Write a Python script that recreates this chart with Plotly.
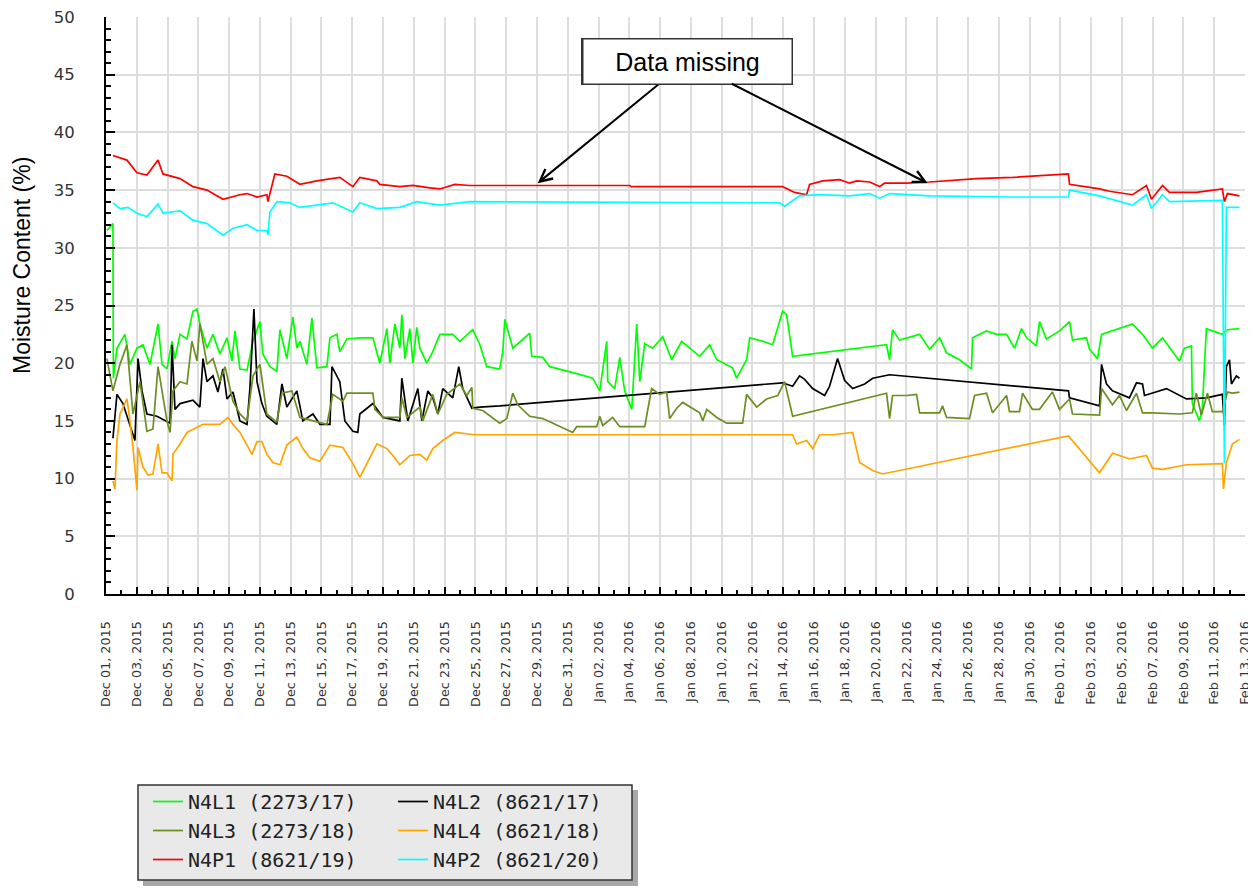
import pandas as pd
import plotly.graph_objects as go

# ---------------- data (day offsets from 2015-12-01, moisture %) ----------------
START = "2015-12-01"

n4l1_days = [0.06, 0.45, 0.48, 0.71, 1.23, 1.56, 2.01, 2.40, 2.86, 3.38, 3.64, 3.96, 4.29, 4.48, 4.81, 5.26,
             5.65, 5.91, 6.10, 6.56, 6.95, 7.40, 7.86, 8.18, 8.38, 8.70, 9.16, 9.55, 10.0, 10.19, 10.65, 11.10,
             11.30, 11.75, 12.14, 12.40, 12.60, 13.05, 13.38, 13.70, 14.35, 14.55, 15.0, 15.19, 15.65, 16.49,
             17.34, 17.79, 18.25, 18.44, 18.77, 19.09, 19.22, 19.42, 19.74, 19.94, 20.19, 20.39, 20.84, 21.23,
             21.69, 22.53, 22.99, 23.83, 24.29, 24.74, 25.58, 25.78, 25.91, 26.43, 27.53, 27.66, 28.38, 28.83,
             30.58, 31.62, 32.08, 32.53, 32.60, 33.05, 33.38, 33.70, 34.16, 34.48, 34.68, 35.0, 35.52, 36.17,
             36.75, 37.40, 38.57, 39.22, 39.68, 40.71, 40.97, 41.62, 41.82, 42.66, 43.31, 43.96, 44.22, 44.61,
             50.71, 50.91, 51.10, 51.56, 52.86, 53.51, 54.16, 54.61, 55.45, 56.23, 56.30, 57.21, 57.86, 58.51,
             59.03, 59.48, 59.81, 60.45, 60.65, 61.10, 61.95, 62.60, 62.79, 63.70, 63.90, 64.42, 64.68, 65.39,
             66.69, 67.34, 67.99, 68.64, 69.74, 70.06, 70.52, 70.58, 71.04, 71.23, 71.49, 72.53, 72.86, 73.64]
n4l1_vals = [31.5, 32.1, 18.7, 21.3, 22.5, 19.9, 21.3, 21.6, 19.9, 23.4, 19.9, 19.5, 21.9, 20.4, 22.5, 22.1,
             24.5, 24.7, 23.4, 21.3, 22.5, 20.8, 22.2, 20.2, 22.8, 19.5, 19.4, 21.9, 23.6, 20.8, 19.7, 19.3,
             22.9, 20.4, 24.0, 21.3, 21.9, 19.9, 23.9, 19.6, 19.7, 22.2, 22.5, 21.0, 22.1, 22.2,
             22.2, 20.0, 23.0, 20.0, 23.4, 21.3, 24.2, 20.4, 23.0, 20.0, 23.1, 21.3, 20.0, 21.0,
             22.5, 22.5, 21.9, 22.9, 21.6, 19.7, 19.5, 21.0, 23.8, 21.3, 22.6, 20.6, 20.5, 19.7,
             19.1, 18.7, 17.6, 21.9, 18.4, 17.8, 20.5, 17.6, 16.0, 23.4, 18.4, 21.7, 21.3, 22.3,
             20.3, 21.9, 20.6, 21.6, 20.3, 19.6, 18.7, 20.3, 22.2, 21.9, 21.6, 24.5, 24.2, 20.6,
             21.6, 20.3, 22.9, 22.0, 22.5, 21.2, 22.2, 20.9, 20.3, 19.5, 22.2, 22.8, 22.5, 22.5,
             21.3, 23.0, 22.2, 21.5, 23.6, 22.1, 22.8, 23.6, 22.0, 22.2, 21.2, 20.4, 22.5, 22.8,
             23.4, 22.5, 21.3, 22.2, 20.2, 21.3, 21.5, 16.5, 15.0, 16.1, 23.0, 22.5, 22.9, 23.0]

n4l2_days = [0.45, 0.71, 1.10, 1.56, 1.88, 2.08, 2.34, 2.66, 3.31, 4.16, 4.29, 4.48, 4.81, 5.65, 6.10, 6.30,
             6.56, 6.95, 7.27, 7.60, 7.86, 8.25, 8.70, 9.16, 9.35, 9.61, 9.81, 10.13, 10.45, 11.10, 11.43, 11.75,
             12.40, 12.79, 13.44, 13.90, 14.55, 14.68, 15.19, 15.52, 16.04, 16.36, 16.49, 17.34, 17.99, 19.09,
             19.22, 19.61, 20.26, 20.52, 20.91, 21.23, 21.56, 21.88, 22.53, 22.92, 23.18, 23.77, 24.29, 25.58,
             43.96, 44.61, 45.06, 45.39, 45.91, 46.69, 47.01, 47.53, 47.99, 48.51, 49.29, 49.81, 50.45, 50.91,
             62.53, 62.60, 64.55, 64.68, 65.0, 65.39, 66.49, 66.95, 67.34, 67.47, 68.90, 70.19, 71.49, 72.53,
             72.66, 72.79, 72.99, 73.12, 73.44, 73.64]
n4l2_vals = [13.5, 17.3, 16.5, 14.7, 13.3, 20.4, 17.6, 15.6, 15.4, 14.8, 21.6, 16.0, 16.5, 16.8, 16.2, 20.4,
             18.4, 18.9, 17.5, 19.5, 16.9, 17.5, 15.0, 14.7, 17.8, 24.7, 18.4, 16.5, 15.4, 14.7, 18.2, 16.2,
             17.6, 15.0, 15.6, 14.7, 14.7, 19.7, 18.4, 15.0, 14.1, 14.0, 15.6, 16.5, 15.3, 15.0,
             18.7, 15.0, 17.8, 15.0, 17.6, 17.0, 15.6, 17.8, 17.0, 19.7, 17.8, 16.1, 16.2, 16.3,
             18.3, 18.0, 18.9, 18.6, 17.8, 17.2, 18.0, 20.4, 18.5, 17.8, 18.2, 18.7, 18.9, 19.0,
             17.6, 17.0, 16.3, 19.9, 18.2, 17.6, 17.0, 18.3, 18.2, 17.2, 17.8, 16.9, 17.0, 17.3,
             14.6, 19.7, 20.3, 18.2, 18.9, 18.7]

n4l3_days = [0.06, 0.45, 0.91, 1.36, 1.75, 2.21, 2.66, 3.05, 3.38, 3.96, 4.16, 4.35, 4.81, 5.26, 5.58, 5.91,
             6.10, 6.56, 6.95, 7.40, 7.73, 8.25, 8.70, 9.16, 9.55, 10.0, 10.45, 11.10, 11.43, 12.08, 12.60, 13.44,
             14.35, 14.74, 15.39, 15.65, 17.34, 17.47, 17.99, 19.09, 19.22, 19.55, 20.39, 20.58, 21.23, 21.56,
             22.14, 22.99, 23.44, 23.77, 23.83, 24.48, 25.58, 26.04, 26.43, 26.75, 27.53, 28.38, 30.32, 30.58,
             31.88, 32.08, 32.27, 32.92, 33.38, 35.0, 35.13, 35.45, 35.97, 36.43, 36.62, 37.08, 37.47, 38.57,
             38.77, 39.03, 39.68, 40.32, 41.36, 41.62, 42.27, 42.92, 43.64, 44.09, 44.61, 50.71, 50.91, 51.10,
             52.01, 52.66, 52.86, 54.16, 54.35, 54.61, 56.10, 56.43, 57.21, 57.60, 58.51, 58.70, 59.35, 59.55,
             60.19, 60.65, 61.49, 61.95, 62.60, 62.79, 64.55, 64.68, 65.39, 65.84, 66.30, 66.95, 67.34, 67.99,
             69.74, 70.58, 70.84, 71.17, 71.56, 71.88, 72.53, 72.86, 73.18, 73.64]
n4l3_vals = [20.4, 17.6, 19.9, 21.6, 15.6, 18.4, 14.1, 14.3, 19.7, 15.0, 14.0, 17.6, 18.4, 18.2, 21.9, 20.2,
             23.4, 19.9, 20.4, 18.4, 19.7, 16.7, 15.6, 15.0, 18.9, 19.9, 15.6, 14.9, 17.4, 17.6, 15.3, 15.0,
             14.7, 17.3, 16.7, 17.4, 17.4, 16.0, 15.3, 15.3, 17.0, 15.3, 16.2, 15.0, 17.3, 15.6,
             17.3, 18.2, 17.2, 17.9, 16.1, 15.9, 14.8, 15.2, 17.4, 16.4, 15.4, 15.2, 14.0, 14.5,
             14.5, 15.4, 14.6, 15.3, 14.5, 14.5, 15.4, 17.8, 17.3, 17.5, 15.2, 16.1, 16.6, 15.7,
             15.0, 16.0, 15.3, 14.8, 14.8, 17.3, 16.2, 16.9, 17.2, 18.4, 15.4, 17.4, 15.2, 17.2,
             17.2, 17.3, 15.7, 15.7, 16.3, 15.3, 15.2, 17.2, 17.4, 15.7, 17.2, 15.8, 15.8, 17.4,
             16.0, 16.0, 17.5, 16.0, 16.9, 15.6, 15.5, 17.8, 16.4, 17.2, 15.9, 17.4, 15.7, 15.7,
             15.6, 15.7, 17.4, 15.5, 17.4, 15.8, 15.8, 17.5, 17.4, 17.5]

n4l4_days = [0.45, 0.58, 0.71, 0.91, 1.36, 1.56, 1.75, 2.01, 2.08, 2.40, 2.73, 3.05, 3.38, 3.64, 3.96, 4.29,
             4.35, 4.81, 5.26, 5.91, 6.30, 7.40, 7.92, 8.25, 8.70, 9.16, 9.48, 9.81, 10.13, 10.45, 10.84, 11.30,
             11.75, 12.40, 12.79, 13.25, 13.90, 14.55, 15.39, 16.04, 16.49, 16.95, 17.60, 18.25, 18.64, 19.09,
             19.74, 20.39, 20.84, 21.23, 21.88, 22.66, 23.96, 43.96, 44.61, 44.87, 45.52, 45.91, 46.36, 47.21,
             48.51, 48.96, 49.81, 50.45, 51.56, 62.53, 64.55, 65.39, 66.49, 67.60, 67.99, 68.64, 70.19, 72.53,
             72.60, 72.79, 72.99, 73.18, 73.64]
n4l4_vals = [9.8, 9.1, 13.3, 15.6, 16.9, 15.0, 12.7, 9.0, 12.7, 11.0, 10.3, 10.4, 13.0, 10.5, 10.5, 9.8,
             12.1, 13.0, 14.0, 14.4, 14.7, 14.7, 15.3, 14.7, 14.0, 12.9, 12.1, 13.2, 13.2, 12.1, 11.4, 11.2,
             12.9, 13.6, 12.6, 11.8, 11.5, 12.9, 12.7, 11.3, 10.1, 11.3, 13.0, 12.6, 12.0, 11.2,
             12.0, 12.1, 11.6, 12.6, 13.3, 14.0, 13.8, 13.8, 13.8, 13.0, 13.3, 12.6, 13.8, 13.8,
             14.0, 11.4, 10.7, 10.4, 10.7, 13.7, 10.5, 12.2, 11.7, 12.0, 10.9, 10.8, 11.2, 11.3,
             9.1, 11.4, 12.2, 13.0, 13.4]

n4p1_days = [0.45, 1.36, 2.01, 2.66, 3.38, 3.70, 4.81, 5.65, 6.56, 7.60, 8.70, 9.16, 9.81, 10.45, 10.52, 10.97,
             11.75, 12.60, 13.70, 15.19, 16.04, 16.49, 17.60, 17.79, 19.09, 19.94, 21.04, 21.69, 22.66, 23.64,
             34.03, 34.10, 43.96, 44.74, 45.52, 45.71, 46.56, 47.66, 48.31, 48.77, 49.61, 50.26, 50.58, 52.01,
             53.51, 55.45, 56.56, 58.90, 62.53, 62.60, 64.55, 65.19, 66.69, 67.60, 67.92, 68.64, 69.09, 70.84,
             72.53, 72.66, 72.86, 73.64]
n4p1_vals = [38.0, 37.6, 36.5, 36.3, 37.6, 36.4, 36.0, 35.3, 35.0, 34.2, 34.6, 34.7, 34.4, 34.6, 34.0, 36.4,
             36.2, 35.5, 35.8, 36.1, 35.3, 36.1, 35.8, 35.5, 35.3, 35.4, 35.2, 35.1, 35.5, 35.4,
             35.4, 35.3, 35.3, 34.8, 34.6, 35.5, 35.8, 35.9, 35.6, 35.8, 35.7, 35.3, 35.6, 35.6,
             35.7, 35.9, 36.0, 36.1, 36.4, 35.5, 35.1, 34.9, 34.6, 35.4, 34.2, 35.4, 34.8, 34.8,
             35.1, 34.0, 34.7, 34.5]

n4p2_days = [0.45, 0.91, 1.43, 2.01, 2.66, 3.38, 3.70, 4.81, 5.65, 6.56, 7.60, 8.25, 9.16, 9.81, 10.45, 10.52,
             10.65, 11.10, 11.95, 12.60, 14.74, 16.04, 16.49, 17.60, 19.09, 20.19, 21.69, 23.64, 43.77, 44.09,
             45.06, 46.36, 48.31, 49.61, 50.26, 50.91, 53.51, 58.90, 62.53, 62.60, 64.55, 66.69, 67.60, 67.92,
             68.64, 69.09, 72.53, 72.66, 72.79, 73.64]
n4p2_vals = [33.9, 33.4, 33.5, 33.0, 32.7, 33.8, 33.0, 33.2, 32.4, 32.1, 31.1, 31.7, 32.0, 31.5, 31.5, 31.1,
             33.1, 34.0, 33.9, 33.5, 33.9, 33.1, 33.9, 33.4, 33.5, 34.0, 33.7, 34.0, 33.9, 33.6,
             34.5, 34.6, 34.5, 34.7, 34.3, 34.7, 34.5, 34.4, 34.4, 35.0, 34.5, 33.7, 34.6, 33.4,
             34.6, 34.0, 34.1, 11.3, 33.5, 33.5]

series_names = ["N4L1 (2273/17)", "N4L2 (8621/17)", "N4L3 (2273/18)",
                "N4L4 (8621/18)", "N4P1 (8621/19)", "N4P2 (8621/20)"]
series_days = [n4l1_days, n4l2_days, n4l3_days, n4l4_days, n4p1_days, n4p2_days]
series_vals = [n4l1_vals, n4l2_vals, n4l3_vals, n4l4_vals, n4p1_vals, n4p2_vals]
series_colors = ["#00FF00", "#000000", "#6B8E23", "#FFA500", "#FF0000", "#00FFFF"]
series_legend = ["legend", "legend2", "legend", "legend2", "legend", "legend2"]

annotation_text = "Data missing"
arrow_tip_days = [28.05, 53.38]
arrow_tip_vals = [35.6, 35.6]

# ---------------- figure ----------------
base = pd.Timestamp(START)


def to_dates(days):
    return base + pd.to_timedelta(days, unit="D")


fig = go.Figure()
for name, d, v, c, lg in zip(series_names, series_days, series_vals, series_colors, series_legend):
    fig.add_trace(go.Scatter(x=to_dates(d), y=v, mode="lines", name=name,
                             line=dict(color=c, width=1.7), legend=lg))

# page body has an 8px margin, so the figure is laid out in (screen - 8) coordinates
OFF = 8
W, H = 1256 - OFF, 888 - OFF
PL, PR, PT, PB = 106, 1245, 17, 594          # plot area in screen pixels
L, T = PL - OFF, PT - OFF
R, B = W - (PR - OFF), H - (PB - OFF)
pw, ph = PR - PL, PB - PT


def px_x(sx):
    return (sx - PL) / pw


def px_y(sy):
    return (PB - sy) / ph


legend_font = dict(family="DejaVu Sans Mono", size=20, color="#222")
leg_top = 1 - (782 - OFF) / H
fig.update_layout(
    width=W, height=H,
    margin=dict(l=L, r=R, t=T, b=B, autoexpand=False),
    paper_bgcolor="white", plot_bgcolor="white",
    showlegend=True,
    legend=dict(xref="container", yref="container", x=(148 - OFF) / W, y=leg_top,
                xanchor="left", yanchor="top", bgcolor="rgba(0,0,0,0)", borderwidth=0,
                font=legend_font, itemclick=False, itemdoubleclick=False),
    legend2=dict(xref="container", yref="container", x=(393 - OFF) / W, y=leg_top,
                 xanchor="left", yanchor="top", bgcolor="rgba(0,0,0,0)", borderwidth=0,
                 font=legend_font, itemclick=False, itemdoubleclick=False),
    xaxis=dict(
        type="date",
        range=[base, base + pd.Timedelta(days=74)],
        tick0=base, dtick=2 * 86400000,
        tickformat="%b %d, %Y", tickangle=-90,
        tickfont=dict(family="DejaVu Sans", size=12.8, color="#333"),
        ticks="inside", ticklen=7, tickcolor="black", tickwidth=1.5,
        showline=True, linecolor="black", linewidth=2,
        showgrid=True, gridcolor="#DDDDDD", gridwidth=2,
        zeroline=False, ticklabelstandoff=20, ticklabeloverflow="allow",
        minor=dict(dtick=86400000, ticks="inside", ticklen=4, tickcolor="black", showgrid=False),
    ),
    yaxis=dict(
        range=[0, 50], dtick=5, tick0=0,
        tickfont=dict(family="DejaVu Sans", size=16.5, color="#333"),
        ticks="inside", ticklen=9, tickcolor="black", tickwidth=1.5,
        showline=True, linecolor="black", linewidth=2,
        showgrid=True, gridcolor="#DDDDDD", gridwidth=2,
        zeroline=False, ticklabelstandoff=26, ticklabeloverflow="allow",
        minor=dict(dtick=1, ticks="inside", ticklen=5, tickcolor="black", showgrid=False),
    ),
)

# legend frame with shadow (paper coordinates derived from screen pixels)
fig.add_shape(type="rect", xref="paper", yref="paper",
              x0=px_x(143), x1=px_x(638), y0=px_y(886), y1=px_y(790),
              line=dict(width=0), fillcolor="#A8A8A8", layer="above")
fig.add_shape(type="rect", xref="paper", yref="paper",
              x0=px_x(138), x1=px_x(632), y0=px_y(880), y1=px_y(785),
              line=dict(color="#333", width=1.5), fillcolor="#E9E9E9", layer="above")

# y axis title
fig.add_annotation(text="Moisture Content (%)", xref="paper", yref="paper",
                   x=px_x(22), y=px_y(266), xanchor="center", yanchor="middle",
                   textangle=-90, showarrow=False,
                   font=dict(family="Liberation Sans, Arial", size=23, color="black"))

# "Data missing" callout: two identical boxes, each carrying one arrow
text_cx, text_cy = 687, 61
for d, v in zip(arrow_tip_days, arrow_tip_vals):
    tip_px = PL + d / 74 * pw
    tip_py = PB - v / 50 * ph
    fig.add_annotation(
        x=base + pd.Timedelta(days=d), y=v, xref="x", yref="y",
        text=annotation_text, showarrow=True,
        ax=text_cx - tip_px, ay=text_cy - tip_py,
        arrowhead=5, arrowsize=1.2, arrowwidth=2, arrowcolor="black", standoff=0,
        width=206, height=42, bgcolor="white", bordercolor="#333", borderwidth=1.5,
        font=dict(family="Liberation Sans, Arial", size=25, color="black"),
    )

fig.write_html("out.html")
